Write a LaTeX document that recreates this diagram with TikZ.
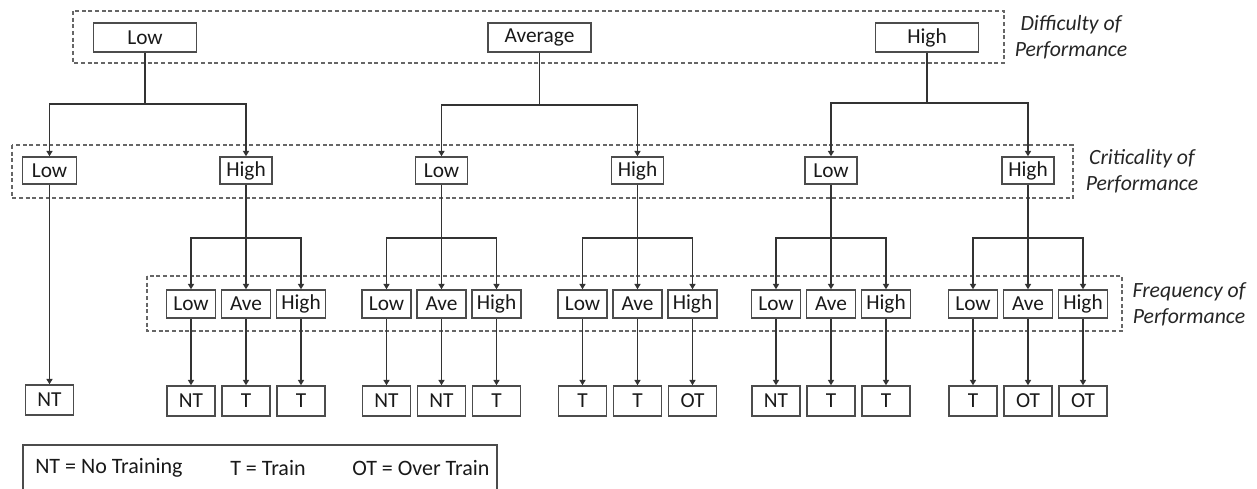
\documentclass[tikz,border=0pt]{standalone}
\usepackage{fontspec}
\setmainfont{Carlito}
\usetikzlibrary{arrows.meta}
\begin{document}
\begin{tikzpicture}[x=0.75pt,y=-0.75pt,
 box/.style={draw=black!70,line width=1.1pt,inner sep=0pt,font=\fontsize{16}{19}\selectfont,text=black!90},
 topbox/.style={box,minimum width=103*0.75pt,minimum height=29*0.75pt},
 critbox/.style={box,minimum width=52*0.75pt,minimum height=27*0.75pt},
 freqbox/.style={box,minimum width=49*0.75pt,minimum height=28*0.75pt},
 resbox/.style={box,minimum width=48*0.75pt,minimum height=30*0.75pt},
 conn/.style={draw=black!80,line width=1pt},
 arr/.style={conn,-{Triangle[length=4pt,width=4.5pt]}},
 grp/.style={draw=black!60,line width=0.8pt,dash pattern=on 3pt off 2pt},
 lab/.style={font=\itshape\fontsize{16.3}{19.5}\selectfont,align=center,text=black!85,inner sep=0pt},
 legtext/.style={font=\fontsize{16.5}{19}\selectfont,anchor=west,inner sep=0pt,text=black!90}]
\useasboundingbox (0,0) rectangle (1257,489);

% dashed group frames
\draw[grp] (73,11) rectangle (1004,63);
\draw[grp] (12,145) rectangle (1073,198);
\draw[grp] (147,276) rectangle (1122,331);

% labels
\node[lab] (ld) at (1071,37) {Difficulty of\\Performance};
\node[lab] (lc) at (1142,171) {Criticality of\\Performance};
\node[lab] (lf) at (1189,304) {Frequency of\\Performance};

% top row
\node[topbox] (d1) at (145,37.5) {Low};
\node[topbox] (d2) at (539.5,37.5) {Average};
\node[topbox] (d3) at (927,37.5) {High};

% criticality row
\node[critbox,minimum width=54*0.75pt] (c1) at (49.5,170.5) {Low};
\node[critbox] (c2) at (246,170.5) {High};
\node[critbox] (c3) at (441.5,170.5) {Low};
\node[critbox] (c4) at (637.5,170.5) {High};
\node[critbox] (c5) at (831,170.5) {Low};
\node[critbox] (c6) at (1028,170.5) {High};

% top -> criticality
\coordinate (j1) at (145,104);
\coordinate (j2) at (539.5,105);
\coordinate (j3) at (927,103);
\draw[conn] (d1.south) -- (j1);
\draw[arr] (j1) -| (c1.north);
\draw[arr] (j1) -| (c2.north);
\draw[conn] (d2.south) -- (j2);
\draw[arr] (j2) -| (c3.north);
\draw[arr] (j2) -| (c4.north);
\draw[conn] (d3.south) -- (j3);
\draw[arr] (j3) -| (c5.north);
\draw[arr] (j3) -| (c6.north);

% lone result
\node[resbox] (r0) at (49.5,400) {NT};
\draw[arr] (c1.south) -- (r0.north);

% frequency groups and results
\foreach \g/\c/\cx/\ra/\rb/\rc in {1/c2/246/NT/T/T, 2/c3/441.5/NT/NT/T, 3/c4/637.5/T/T/OT, 4/c5/831/NT/T/T, 5/c6/1028/T/OT/OT} {
  \node[freqbox] (f\g L) at (\cx-55,304) {Low};
  \node[freqbox] (f\g A) at (\cx,304) {Ave};
  \node[freqbox] (f\g H) at (\cx+55,304) {High};
  \node[resbox] (r\g L) at (\cx-55,401) {\ra};
  \node[resbox] (r\g A) at (\cx,401) {\rb};
  \node[resbox] (r\g H) at (\cx+55,401) {\rc};
  \coordinate (k\g) at (\cx,238);
  \draw[arr] (\c.south) -- (f\g A.north);
  \draw[arr] (k\g) -| (f\g L.north);
  \draw[arr] (k\g) -| (f\g H.north);
  \draw[arr] (f\g L.south) -- (r\g L.north);
  \draw[arr] (f\g A.south) -- (r\g A.north);
  \draw[arr] (f\g H.south) -- (r\g H.north);
}

% legend
\draw[draw=black!70,line width=1.1pt] (23,495) -- (23,445) -- (497,445) -- (497,495);
\node[legtext] (l1) at (35,468) {NT = No Training};
\node[legtext] (l2) at (230,468) {T = Train};
\node[legtext] (l3) at (352,468) {OT = Over Train};
\end{tikzpicture}
\end{document}
